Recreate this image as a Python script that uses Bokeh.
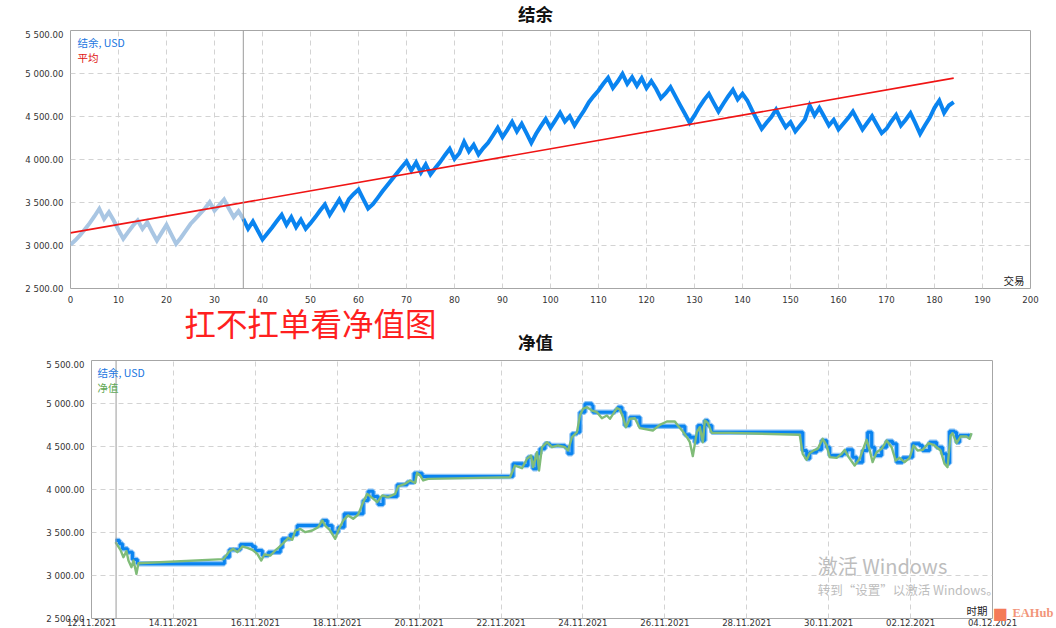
from bokeh.plotting import figure
from bokeh.models import (Range1d, FixedTicker, Label, Span, DatetimeTickFormatter,
                          ColumnDataSource, LinearAxis)
from bokeh.embed import file_html
from bokeh.resources import INLINE
import pandas as pd

# ---------------- data: top chart (balance by trade number) ----------------
balance = [3010, 3060, 3120, 3190, 3260, 3340, 3427, 3310, 3387, 3290,
           3180, 3078, 3155, 3230, 3291, 3194, 3270, 3160, 3058, 3150,
           3240, 3130, 3020, 3090, 3170, 3250, 3310, 3370, 3430, 3504,
           3407, 3470, 3535, 3430, 3330, 3399, 3310, 3194, 3279, 3175,
           3070, 3140, 3210, 3285, 3357, 3240, 3330, 3213, 3300, 3194,
           3260, 3330, 3407, 3477, 3357, 3445, 3535, 3427, 3540, 3600,
           3650, 3540, 3430, 3480, 3554, 3630, 3700, 3770, 3840, 3910,
           3977, 3872, 3965, 3849, 3942, 3826, 3900, 3970, 4050, 4124,
           4008, 4073, 4206, 4093, 4170, 4058, 4132, 4194, 4279, 4368,
           4260, 4345, 4438, 4326, 4415, 4306, 4194, 4299, 4388, 4473,
           4368, 4454, 4543, 4442, 4504, 4396, 4485, 4570, 4667, 4737,
           4802, 4880, 4950, 4833, 4907, 4996, 4880, 4957, 4857, 4946,
           4830, 4911, 4822, 4713, 4771, 4842, 4737, 4632, 4531, 4427,
           4512, 4609, 4694, 4764, 4659, 4558, 4648, 4733, 4810, 4698,
           4764, 4686, 4570, 4462, 4357, 4427, 4493, 4582, 4473, 4376,
           4434, 4326, 4396, 4466, 4628, 4512, 4601, 4500, 4396, 4462,
           4350, 4415, 4481, 4558, 4454, 4350, 4427, 4504, 4404, 4306,
           4357, 4442, 4519, 4396, 4462, 4539, 4423, 4299, 4396, 4485,
           4601, 4686, 4543, 4628, 4667]
trade_no = list(range(len(balance)))
history_start_trade = 36
avg_trade = [0, 184]
avg_balance = [3147, 4946]

x_ticks_trades = [0, 10, 20, 30, 40, 50, 60, 70, 80, 90, 100,
                  110, 120, 130, 140, 150, 160, 170, 180, 190, 200]
y_ticks = [2500, 3000, 3500, 4000, 4500, 5000, 5500]
y_tick_labels = ["2 500.00", "3 000.00", "3 500.00", "4 000.00",
                 "4 500.00", "5 000.00", "5 500.00"]

# ---------------- data: bottom chart (balance / equity by time) ----------------
date_tick_labels = ["12.11.2021", "14.11.2021", "16.11.2021", "18.11.2021",
                    "20.11.2021", "22.11.2021", "24.11.2021", "26.11.2021",
                    "28.11.2021", "30.11.2021", "02.12.2021", "04.12.2021"]
history_start_day = 0.6   # days after 12.11.2021 00:00

bal_days = [0.585, 0.683, 0.756, 0.878, 1.000, 1.122, 3.244, 3.366, 3.634, 3.927,
            4.000, 4.171, 4.317, 4.610, 4.659, 4.854, 5.024, 5.634, 5.756, 5.878,
            6.024, 6.171, 6.634, 6.756, 6.878, 7.000, 7.122, 7.463, 7.707, 7.878,
            8.073, 10.293, 10.537, 10.659, 10.780, 10.878, 10.951, 11.073, 11.195, 11.561,
            11.634, 11.732, 11.854, 11.927, 12.049, 12.220, 12.244, 12.780, 12.854, 12.951,
            13.024, 13.146, 13.390, 14.488, 14.610, 14.732, 14.805, 14.902, 14.976, 15.049,
            15.146, 17.366, 17.463, 17.537, 17.707, 17.829, 17.951, 18.024, 18.341, 18.439,
            18.585, 18.683, 18.829, 18.951, 19.049, 19.122, 19.293, 19.415, 19.561, 19.659,
            19.805, 19.976, 20.049, 20.220, 20.293, 20.463, 20.634, 20.780, 20.878, 20.951,
            21.073, 21.122, 21.195, 21.439]
bal_values = [3407, 3368, 3310, 3271, 3186, 3136, 3213, 3298, 3360, 3337,
              3290, 3232, 3271, 3322, 3426, 3477, 3581, 3640, 3581, 3504,
              3562, 3717, 3872, 3980, 3918, 3826, 3918, 4054, 4085, 4190,
              4151, 4298, 4279, 4376, 4240, 4415, 4473, 4531, 4512, 4492,
              4415, 4647, 4667, 4899, 4996, 4977, 4899, 4919, 4957, 4899,
              4744, 4841, 4736, 4636, 4609, 4550, 4744, 4570, 4802, 4744,
              4667, 4454, 4357, 4434, 4461, 4570, 4492, 4395, 4415, 4461,
              4376, 4318, 4454, 4667, 4492, 4395, 4492, 4562, 4531, 4318,
              4368, 4376, 4531, 4512, 4454, 4550, 4492, 4415, 4306, 4678,
              4667, 4550, 4628, 4647]

eq_days = [0.585, 0.707, 0.780, 0.854, 0.902, 0.976, 1.024, 1.098, 1.146, 3.220,
           3.366, 3.463, 3.561, 3.683, 3.805, 3.927, 4.049, 4.146, 4.220, 4.366,
           4.488, 4.561, 4.683, 4.805, 4.902, 4.976, 5.098, 5.220, 5.390, 5.537,
           5.634, 5.707, 5.829, 5.951, 6.024, 6.146, 6.268, 6.390, 6.512, 6.634,
           6.732, 6.854, 6.976, 7.098, 7.244, 7.415, 7.488, 7.659, 7.780, 7.829,
           7.902, 7.951, 8.024, 8.098, 8.220, 9.171, 10.220, 10.341, 10.512, 10.634,
           10.732, 10.780, 10.878, 10.927, 11.000, 11.122, 11.244, 11.390, 11.561, 11.634,
           11.732, 11.854, 11.927, 12.000, 12.098, 12.220, 12.341, 12.463, 12.585, 12.659,
           12.829, 12.902, 12.976, 13.049, 13.146, 13.268, 13.390, 13.707, 13.878, 14.049,
           14.244, 14.317, 14.439, 14.537, 14.610, 14.683, 14.780, 14.854, 14.927, 14.976,
           15.049, 15.146, 15.585, 17.293, 17.366, 17.463, 17.537, 17.634, 17.732, 17.854,
           17.951, 18.024, 18.195, 18.317, 18.390, 18.488, 18.634, 18.756, 18.829, 18.927,
           19.000, 19.073, 19.171, 19.293, 19.415, 19.537, 19.634, 19.732, 19.854, 19.976,
           20.073, 20.171, 20.293, 20.439, 20.585, 20.732, 20.829, 20.902, 20.976, 21.024,
           21.122, 21.220, 21.366, 21.439, 21.488]
eq_values = [3387, 3298, 3213, 3283, 3174, 3097, 3174, 3019, 3143, 3190,
             3283, 3310, 3271, 3337, 3322, 3298, 3252, 3174, 3244, 3232,
             3291, 3322, 3376, 3438, 3415, 3523, 3542, 3504, 3523, 3562,
             3640, 3581, 3523, 3426, 3523, 3640, 3698, 3659, 3709, 3853,
             3949, 3903, 3853, 3930, 3911, 3949, 4035, 4066, 4105, 4093,
             4077, 4194, 4163, 4105, 4124, 4132, 4143, 4279, 4248, 4357,
             4395, 4260, 4434, 4221, 4492, 4550, 4492, 4512, 4492, 4453,
             4608, 4667, 4860, 4938, 4957, 4918, 4899, 4829, 4860, 4822,
             4946, 4930, 4841, 4725, 4822, 4829, 4713, 4686, 4752, 4791,
             4791, 4744, 4674, 4608, 4550, 4388, 4667, 4725, 4550, 4802,
             4775, 4659, 4659, 4636, 4415, 4345, 4423, 4454, 4473, 4589,
             4512, 4376, 4368, 4415, 4461, 4376, 4279, 4357, 4454, 4578,
             4461, 4318, 4434, 4473, 4570, 4492, 4337, 4368, 4318, 4368,
             4512, 4454, 4461, 4539, 4512, 4454, 4299, 4260, 4628, 4655,
             4539, 4616, 4616, 4589, 4655]

# ---------------- styles ----------------
BLUE = "#0a84f0"
LIGHT = "#a9c6e3"
HALO = "#8cc3f6"
GREEN = "#80bc78"
GRID = "#d3d3d3"
FRAME = "#a6a6a6"
CJK = "Noto Sans CJK SC"
TICKF = "DejaVu Sans"
W = 1056

def style(p):
    p.outline_line_color = FRAME
    p.outline_line_width = 1
    p.background_fill_color = "white"
    p.border_fill_color = "white"
    for ax in (p.xaxis, p.yaxis):
        ax.axis_line_color = None
        ax.major_tick_line_color = None
        ax.minor_tick_line_color = None
        ax.major_tick_out = 0
        ax.major_label_text_font = TICKF
        ax.major_label_text_font_size = "8.6px"
        ax.major_label_text_color = "#333333"
    p.xaxis.major_label_standoff = 7
    p.yaxis.major_label_standoff = 7
    for g in (p.xgrid, p.ygrid):
        g.grid_line_color = GRID
        g.grid_line_dash = "5 4"
        g.grid_line_width = 1

def strip(top, bottom):
    """A plain text band; its data coordinates equal page pixels."""
    s = figure(width=W, height=bottom - top, x_range=Range1d(0, W),
               y_range=Range1d(bottom, top), output_backend="svg", toolbar_location=None,
               x_axis_type=None, y_axis_type=None, min_border=0)
    s.grid.visible = False
    s.outline_line_color = None
    s.background_fill_color = "white"
    s.border_fill_color = "white"
    return s

def add_label(p, pos, text, size, color, align="left", bold=False, font=CJK):
    x, y = pos
    p.add_layout(Label(x=x, y=y, text=text, text_font=font, text_font_size=size,
                       text_color=color, text_align=align, text_baseline="middle",
                       text_font_style="bold" if bold else "normal"))

# ---------------- title band ----------------
pt = strip(0, 29)
add_label(pt, (535, 12.5), "结余", "17.5px", "#111111", align="center", bold=True)

# ---------------- top figure ----------------
p1 = figure(width=W, height=276, x_range=Range1d(0, 200), y_range=Range1d(2500, 5500),
            output_backend="svg", toolbar_location=None,
            min_border_left=70, min_border_right=26, min_border_top=1, min_border_bottom=17)
style(p1)
p1.xaxis.ticker = FixedTicker(ticks=x_ticks_trades)
p1.yaxis.ticker = FixedTicker(ticks=y_ticks)
p1.xgrid.ticker = FixedTicker(ticks=x_ticks_trades)
p1.ygrid.ticker = FixedTicker(ticks=y_ticks)
p1.yaxis.major_label_overrides = dict(zip(y_ticks, y_tick_labels))

k = history_start_trade
p1.line(trade_no[:k + 1], balance[:k + 1], line_color=LIGHT, line_width=4, line_join="miter")
p1.line(trade_no[k:], balance[k:], line_color=BLUE, line_width=4, line_join="miter")
p1.line(avg_trade, avg_balance, line_color="#f01414", line_width=1.6)
p1.add_layout(Span(location=history_start_trade, dimension="height",
                   line_color="#9a9a9a", line_width=1))

def tpos(px, py):
    return (px - 70) / 4.8, 5500 - (py - 30) * 500 / 43

add_label(p1, tpos(77, 41.5), "结余, USD", "10.5px", "#1874e0")
add_label(p1, tpos(77, 56.5), "平均", "10.5px", "#e01010")
add_label(p1, tpos(1024, 279.5), "交易", "10.5px", "#222222", align="right")

# ---------------- middle band ----------------
pm = strip(305, 359)
add_label(pm, (184, 321.5), "扛不扛单看净值图", "31.5px", "#ff1f1f")
add_label(pm, (535, 341), "净值", "17.5px", "#111111", align="center", bold=True)

# ---------------- bottom figure ----------------
date_ticks = [pd.to_datetime(s, format="%d.%m.%Y") for s in date_tick_labels]
tick_ms = [d.timestamp() * 1000 for d in date_ticks]
start = date_ticks[0]
DAY_MS = 86400000.0
FT, FB = 360, 618   # frame top / bottom on the page

p2 = figure(width=W, height=1 + (FB - FT) + 10, x_axis_type="datetime",
            x_range=Range1d(tick_ms[0], tick_ms[-1]), y_range=Range1d(2500, 5500),
            output_backend="svg", toolbar_location=None,
            min_border_left=91, min_border_right=63, min_border_top=1, min_border_bottom=10)
style(p2)
p2.xaxis.major_label_standoff = 0
p2.xaxis.ticker = FixedTicker(ticks=tick_ms)
p2.xgrid.ticker = FixedTicker(ticks=tick_ms)
p2.yaxis.ticker = FixedTicker(ticks=y_ticks)
p2.ygrid.ticker = FixedTicker(ticks=y_ticks)
p2.yaxis.major_label_overrides = dict(zip(y_ticks, y_tick_labels))
fmt = "%d.%m.%Y"
p2.xaxis.formatter = DatetimeTickFormatter(milliseconds=fmt, seconds=fmt, minsec=fmt, minutes=fmt,
                                           hourmin=fmt, hours=fmt, days=fmt, months=fmt, years=fmt)

bal_src = ColumnDataSource(dict(t=[start + pd.Timedelta(days=d) for d in bal_days], v=bal_values))
eq_src = ColumnDataSource(dict(t=[start + pd.Timedelta(days=d) for d in eq_days], v=eq_values))
p2.step("t", "v", source=bal_src, mode="after", line_color=HALO, line_width=5.5)
p2.step("t", "v", source=bal_src, mode="after", line_color=BLUE, line_width=3)
p2.line("t", "v", source=eq_src, line_color=GREEN, line_width=2.4, line_join="round")
p2.add_layout(Span(location=tick_ms[0] + history_start_day * DAY_MS, dimension="height",
                   line_color="#9a9a9a", line_width=1))

def bpos(px, py):
    return tick_ms[0] + (px - 91) / 41 * DAY_MS, 5500 - (py - FT) * 3000 / (FB - FT)

add_label(p2, bpos(97, 372), "结余, USD", "10.5px", "#1874e0")
add_label(p2, bpos(97, 387), "净值", "10.5px", "#5fa855")
add_label(p2, bpos(988, 609.5), "时期", "10.5px", "#222222", align="right")
add_label(p2, bpos(818, 565), "激活 Windows", "20px", "#bdbdbd")
add_label(p2, bpos(818, 589), "转到“设置”以激活 Windows。", "12.5px", "#bdbdbd")

# watermark logo, drawn as labels of two bare axes on the right
logo_v = 2560
for txt, size, color, font, sd in (("■", "16px", "#f47a58", "DejaVu Sans", 0),
                                   ("EAHub", "12.5px", "#f29579", "Liberation Serif", 2)):
    ax = LinearAxis(ticker=FixedTicker(ticks=[logo_v]), major_label_overrides={logo_v: txt})
    ax.axis_line_color = None
    ax.major_tick_line_color = None
    ax.minor_tick_line_color = None
    ax.major_tick_out = 0
    ax.major_label_standoff = sd
    ax.major_label_text_font = font
    ax.major_label_text_font_size = size
    ax.major_label_text_font_style = "bold"
    ax.major_label_text_color = color
    p2.add_layout(ax, "right")

open("out.html", "w").write(file_html([pt, p1, pm, p2], INLINE))
